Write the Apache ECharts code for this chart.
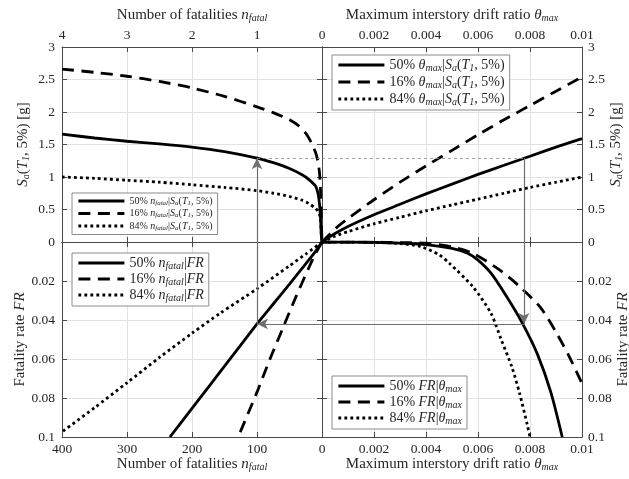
<!DOCTYPE html>
<html><head><meta charset="utf-8">
<script src="https://cdn.jsdelivr.net/npm/echarts/dist/echarts.min.js"></script>
<style>html,body{margin:0;padding:0;background:#fff}#c{width:629px;height:479px}</style>
</head><body><div id="c"></div>
<script>
// ---------- DATA ----------
// Upper-left: Sa vs n_fatal (top axis scale 0..4)
const ulN50  = [4, 3.5, 3, 2.5, 2, 1.5, 1, 0.75, 0.5, 0.3, 0.2, 0.1, 0.06, 0.04, 0.03, 0.02, 0.012, 0];
const ulSa50 = [1.66, 1.60, 1.55, 1.51, 1.46, 1.39, 1.29, 1.22, 1.13, 1.03, 0.96, 0.86, 0.74, 0.60, 0.48, 0.32, 0.12, 0];
const ulN16  = [4, 3.5, 3, 2.5, 2, 1.5, 1, 0.75, 0.5, 0.35, 0.24, 0.16, 0.1, 0.06, 0.04, 0.03, 0.02, 0.012, 0];
const ulSa16 = [2.66, 2.61, 2.55, 2.47, 2.37, 2.24, 2.08, 1.99, 1.88, 1.78, 1.66, 1.52, 1.38, 1.23, 1.08, 0.95, 0.72, 0.40, 0];
const ulN84  = [4, 3.5, 3, 2.5, 2, 1.5, 1, 0.75, 0.5, 0.3, 0.2, 0.1, 0.06, 0.04, 0.03, 0.02, 0.012, 0];
const ulSa84 = [1.00, 0.98, 0.95, 0.92, 0.88, 0.84, 0.79, 0.75, 0.70, 0.64, 0.59, 0.52, 0.47, 0.43, 0.39, 0.32, 0.15, 0];

// Upper-right: Sa vs theta_max
const urTh   = [0, 0.0005, 0.001, 0.002, 0.003, 0.004, 0.005, 0.006, 0.007, 0.008, 0.009, 0.01];
const urSa50 = [0, 0.13, 0.24, 0.42, 0.58, 0.74, 0.89, 1.04, 1.18, 1.32, 1.46, 1.59];
const urSa16 = [0, 0.20, 0.36, 0.65, 0.92, 1.17, 1.41, 1.65, 1.88, 2.10, 2.32, 2.54];
const urSa84 = [0, 0.09, 0.16, 0.28, 0.38, 0.48, 0.57, 0.66, 0.75, 0.84, 0.92, 1.00];

// Lower-left: FR vs n_fatal (bottom axis 0..400)
const llN50  = [0, 10, 25, 50, 75, 100, 150, 200, 234];
const llFR50 = [0, 0.0048, 0.0112, 0.0216, 0.0318, 0.042, 0.0637, 0.0853, 0.1];
const llN16  = [0, 10, 20, 40, 60, 80, 100, 129];
const llFR16 = [0, 0.006, 0.013, 0.028, 0.044, 0.060, 0.077, 0.1];
const llN84  = [0, 25, 50, 100, 157, 200, 250, 300, 350, 400];
const llFR84 = [0, 0.0062, 0.0122, 0.0240, 0.0366, 0.0468, 0.0592, 0.0722, 0.0850, 0.0974];

// Lower-right: FR vs theta_max
const lrTh50 = [0, 0.001, 0.002, 0.003, 0.004, 0.005, 0.0056, 0.006, 0.0065, 0.0071, 0.0077, 0.0083, 0.0088, 0.00924];
const lrFR50 = [0, 0, 0.0002, 0.0006, 0.0013, 0.0033, 0.0058, 0.0093, 0.016, 0.028, 0.0415, 0.058, 0.077, 0.1];
const lrTh16 = [0, 0.002, 0.003, 0.004, 0.005, 0.0058, 0.0068, 0.0076, 0.0084, 0.009, 0.0095, 0.01];
const lrFR16 = [0, 0.0001, 0.0003, 0.0006, 0.0025, 0.0058, 0.014, 0.0228, 0.0335, 0.0462, 0.0585, 0.0725];
const lrTh84 = [0, 0.002, 0.003, 0.0038, 0.0045, 0.0049, 0.0058, 0.0065, 0.0069, 0.0073, 0.0076, 0.0079, 0.008];
const lrFR84 = [0, 0.0002, 0.0008, 0.0024, 0.0065, 0.0109, 0.0229, 0.0366, 0.0503, 0.064, 0.0776, 0.094, 0.1];

// Worked example (arrows): n=1 (x100), Sa=1.29, theta=0.00777, FR=0.042
const exN = 1, exNbig = 100, exSa = 1.29, exTh = 0.00777, exFR = 0.042;

// ---------- STYLE ----------
const FONT = 'Liberation Serif';
const AX = '#4a4a4a';
const GRIDC = '#e2e2e2';
const TXT = '#262626';
function rich(fs) {
  return {
    i: {fontFamily: FONT, fontStyle: 'italic', fontSize: fs, color: TXT},
    s: {fontFamily: FONT, fontStyle: 'italic', fontSize: Math.round(fs * 0.68), color: TXT, padding: [Math.round(fs*0.42), 0, 0, 0]},
    r: {fontFamily: FONT, fontSize: fs, color: TXT}
  };
}
const fmtNum = v => String(parseFloat((+v).toFixed(4)));

const grids = [
  {left: 62, top: 47, width: 260, height: 195},
  {left: 322, top: 47, width: 260, height: 195},
  {left: 62, top: 242, width: 260, height: 195},
  {left: 322, top: 242, width: 260, height: 195}
].map(g => Object.assign(g, {show: false, containLabel: false, outerBoundsMode: 'none'}));

function axisBase(grid, min, max, interval, inverse, position) {
  return {
    type: 'value', gridIndex: grid, min, max, interval, inverse, position,
    axisLine: {show: true, onZero: false, lineStyle: {color: AX, width: 1}},
    axisTick: {show: true, inside: true, length: 5, lineStyle: {color: AX, width: 1}},
    splitLine: {show: false},
    axisLabel: {show: false},
    z: 3
  };
}
function mainAxis(grid, min, max, interval, inverse, position, name, nameGap, hideMin, labelMargin) {
  const a = axisBase(grid, min, max, interval, inverse, position);
  a.splitLine = {show: true, lineStyle: {color: GRIDC, width: 1}};
  a.axisLabel = {show: true, fontFamily: FONT, fontSize: 13.5, color: TXT, margin: labelMargin,
                 formatter: fmtNum, showMinLabel: !hideMin};
  a.name = name; a.nameLocation = 'middle'; a.nameGap = nameGap;
  a.nameTextStyle = {fontFamily: FONT, fontSize: 15, color: TXT, rich: rich(15)};
  if (position === 'left' || position === 'right') a.nameRotate = 90;
  return a;
}
const nameN = 'Number of fatalities {i|n}{s|fatal}';
const nameTh = 'Maximum interstory drift ratio {i|θ}{s|max}';
const nameSa = '{i|S}{s|a}({i|T}{s|1}, 5%) [g]';
const nameFR = 'Fatality rate {i|FR}';

const xAxis = [
  mainAxis(0, 0, 4, 1, true, 'top', nameN, 24, false, 5),
  mainAxis(1, 0, 0.01, 0.002, false, 'top', nameTh, 24, true, 5),
  mainAxis(2, 0, 400, 100, true, 'bottom', nameN, 17, false, 5),
  mainAxis(3, 0, 0.01, 0.002, false, 'bottom', nameTh, 17, true, 5),
  axisBase(0, 0, 4, 1, true, 'bottom'),
  axisBase(1, 0, 0.01, 0.002, false, 'bottom'),
  axisBase(2, 0, 400, 100, true, 'top'),
  axisBase(3, 0, 0.01, 0.002, false, 'top')
];
const yAxis = [
  mainAxis(0, 0, 3, 0.5, false, 'left', nameSa, 31, false, 7),
  mainAxis(1, 0, 3, 0.5, false, 'right', nameSa, 26, false, 6),
  mainAxis(2, 0, 0.1, 0.02, true, 'left', nameFR, 31, true, 7),
  mainAxis(3, 0, 0.1, 0.02, true, 'right', nameFR, 26, true, 6),
  axisBase(0, 0, 3, 0.5, false, 'right'),
  axisBase(1, 0, 3, 0.5, false, 'left'),
  axisBase(2, 0, 0.1, 0.02, true, 'right'),
  axisBase(3, 0, 0.1, 0.02, true, 'left')
];

const LW = 2.8;
const DASH = [12, 7.5];
const DOT = [2.8, 3.2];
function pairs(xs, ys) { return xs.map((x, i) => [x, ys[i]]); }
function curve(name, q, xs, ys, type) {
  return {
    name, type: 'line', xAxisIndex: q, yAxisIndex: q,
    data: pairs(xs, ys), smooth: 0.25, symbol: 'none', showSymbol: false,
    lineStyle: {color: '#000', width: LW, type: type, cap: 'butt'},
    itemStyle: {color: '#000'},
    z: 4, silent: true, animation: false
  };
}
const ARROW = '#6e6e6e';
const solidL = {color: ARROW, width: 1.2, type: 'solid'};
const dashL = {color: '#8a8a8a', width: 0.8, type: [3, 3]};
function mk(lines) {
  return {
    silent: true, animation: false, symbol: ['none', 'arrow'], symbolSize: [8, 11],
    label: {show: false}, emphasis: {disabled: true},
    lineStyle: solidL, itemStyle: {color: ARROW},
    data: lines
  };
}
function seg(a, b, style, arrow) {
  return [{coord: a, lineStyle: style, symbol: 'none'}, {coord: b, symbol: arrow ? 'arrow' : 'none'}];
}

const series = [
  curve('ul50', 0, ulN50, ulSa50, 'solid'),
  curve('ul16', 0, ulN16, ulSa16, DASH),
  curve('ul84', 0, ulN84, ulSa84, DOT),
  curve('ur50', 1, urTh, urSa50, 'solid'),
  curve('ur16', 1, urTh, urSa16, DASH),
  curve('ur84', 1, urTh, urSa84, DOT),
  curve('ll50', 2, llN50, llFR50, 'solid'),
  curve('ll16', 2, llN16, llFR16, DASH),
  curve('ll84', 2, llN84, llFR84, DOT),
  curve('lr50', 3, lrTh50, lrFR50, 'solid'),
  curve('lr16', 3, lrTh16, lrFR16, DASH),
  curve('lr84', 3, lrTh84, lrFR84, DOT)
];
series[0].markLine = mk([seg([exN, 0], [exN, exSa], solidL, true), seg([exN, exSa], [0, exSa], dashL, false)]);
series[3].markLine = mk([seg([0, exSa], [exTh, exSa], dashL, false), seg([exTh, exSa], [exTh, 0], solidL, false)]);
series[9].markLine = mk([seg([exTh, 0], [exTh, exFR], solidL, true), seg([exTh, exFR], [0, exFR], solidL, false)]);
series[6].markLine = mk([seg([0, exFR], [exNbig, exFR], solidL, true), seg([exNbig, exFR], [exNbig, 0], solidL, false)]);

const labels = {
  ul50: '50% {i|n}{s|fatal}|{i|S}{s|a}({i|T}{s|1}, 5%)',
  ul16: '16% {i|n}{s|fatal}|{i|S}{s|a}({i|T}{s|1}, 5%)',
  ul84: '84% {i|n}{s|fatal}|{i|S}{s|a}({i|T}{s|1}, 5%)',
  ur50: '50% {i|θ}{s|max}|{i|S}{s|a}({i|T}{s|1}, 5%)',
  ur16: '16% {i|θ}{s|max}|{i|S}{s|a}({i|T}{s|1}, 5%)',
  ur84: '84% {i|θ}{s|max}|{i|S}{s|a}({i|T}{s|1}, 5%)',
  ll50: '50% {i|n}{s|fatal}|{i|FR}',
  ll16: '16% {i|n}{s|fatal}|{i|FR}',
  ll84: '84% {i|n}{s|fatal}|{i|FR}',
  lr50: '50% {i|FR}|{i|θ}{s|max}',
  lr16: '16% {i|FR}|{i|θ}{s|max}',
  lr84: '84% {i|FR}|{i|θ}{s|max}'
};
function legend(keys, left, top, fs, ih, gap) {
  return {
    data: keys, left, top, orient: 'vertical', selectedMode: false,
    itemWidth: 46, itemHeight: ih, itemGap: gap, padding: [3, 5, 3, 5],
    backgroundColor: '#fff', borderColor: '#8c8c8c', borderWidth: 1, borderRadius: 0,
    itemStyle: {color: 'rgba(0,0,0,0)', borderColor: 'rgba(0,0,0,0)', borderWidth: 0, opacity: 0},
    lineStyle: {width: LW, color: '#000', cap: 'butt'},
    formatter: n => labels[n],
    textStyle: {fontFamily: FONT, fontSize: fs, color: TXT, rich: rich(fs)},
    z: 6
  };
}
const option = {
  animation: false,
  backgroundColor: '#fff',
  grid: grids,
  xAxis, yAxis, series,
  legend: [
    legend(['ul50', 'ul16', 'ul84'], 72, 193, 10, 10, 2),
    legend(['ur50', 'ur16', 'ur84'], 332, 55, 14, 14, 2),
    legend(['ll50', 'll16', 'll84'], 72, 253, 14, 14, 1),
    legend(['lr50', 'lr16', 'lr84'], 332, 376, 14, 14, 1)
  ]
};
const chart = echarts.init(document.getElementById('c'));
chart.setOption(option);
</script></body></html>
